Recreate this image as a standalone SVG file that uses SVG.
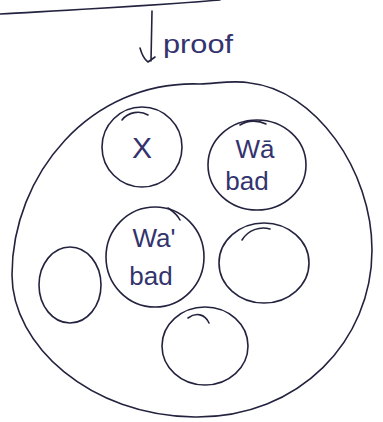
<svg xmlns="http://www.w3.org/2000/svg" width="383" height="422" viewBox="0 0 383 422">
<style>
.ln{fill:none;stroke:#23233f;stroke-width:1.6;stroke-linecap:round}
.tx{font-family:"Liberation Sans","DejaVu Sans",sans-serif;fill:#33336e}
</style>
<rect width="383" height="422" fill="#ffffff"/>
<g id="connectors">
<path class="ln" d="M0,14 C70,10 150,6 220,0"/>
<path class="ln" d="M152,11 L151,61 M140,48 C142,55 145,60 148,62 M148,62 L155,57"/>
</g>
<g id="label-proof"><text class="tx" x="163" y="53" font-size="26" textLength="70" lengthAdjust="spacingAndGlyphs">proof</text></g>
<g id="outer"><path class="ln" d="M250,83 C315,90 372,170 372,250 C372,340 300,418 195,417 C90,416 12,345 12,275 C12,175 90,80 200,84 C220,83 235,80 250,83 Z"/></g>
<g id="node-x">
<ellipse class="ln" cx="142" cy="147" rx="40" ry="40"/>
<path class="ln" d="M122,120 C128,112 140,110 148,115"/>
<text class="tx" x="142" y="158" font-size="30" text-anchor="middle">X</text>
</g>
<g id="node-wa-bad-1">
<ellipse class="ln" cx="257" cy="165" rx="49" ry="45"/>
<path class="ln" d="M240,125 C248,120 258,120 266,124"/>
<text class="tx" x="255" y="158" font-size="26" text-anchor="middle">Wā</text>
<text class="tx" x="247" y="190" font-size="26" text-anchor="middle">bad</text>
</g>
<g id="node-wa-bad-2">
<ellipse class="ln" cx="155" cy="257" rx="49" ry="50"/>
<path class="ln" d="M168,208 C174,212 178,216 180,220"/>
<text class="tx" x="154" y="247" font-size="26" text-anchor="middle">Wa'</text>
<text class="tx" x="151" y="285" font-size="26" text-anchor="middle">bad</text>
</g>
<g id="node-left"><ellipse class="ln" cx="70" cy="285" rx="31" ry="38"/></g>
<g id="node-right">
<ellipse class="ln" cx="264" cy="263" rx="45" ry="40"/>
<path class="ln" d="M242,240 C248,230 260,226 270,229"/>
</g>
<g id="node-bottom">
<ellipse class="ln" cx="205" cy="346" rx="43" ry="39"/>
<path class="ln" d="M188,318 C196,312 205,314 209,323"/>
</g>
</svg>
